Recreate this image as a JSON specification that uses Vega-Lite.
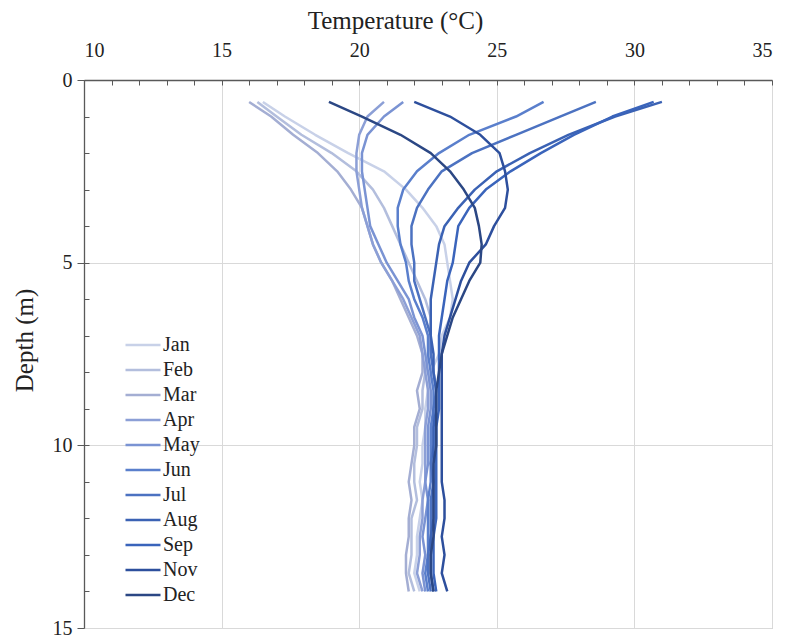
{
  "$schema": "https://vega.github.io/schema/vega-lite/v6.json",
  "width": 688,
  "height": 548,
  "autosize": {"type": "none"},
  "padding": {"left": 84, "top": 80, "right": 15, "bottom": 10},
  "background": "white",
  "config": {
    "font": "Liberation Serif",
    "view": {"stroke": "#bfbfbf", "strokeWidth": 1}
  },
  "datasets": {
    "profiles": [
      {"month":"Jan","depth":0.6,"temp":16.5},{"month":"Jan","depth":1,"temp":17.3},{"month":"Jan","depth":1.5,"temp":18.4},{"month":"Jan","depth":2,"temp":19.6},{"month":"Jan","depth":2.5,"temp":20.9},{"month":"Jan","depth":3,"temp":21.7},{"month":"Jan","depth":3.5,"temp":22.3},{"month":"Jan","depth":4,"temp":22.8},{"month":"Jan","depth":4.5,"temp":23.1},{"month":"Jan","depth":5,"temp":23.2},{"month":"Jan","depth":5.5,"temp":23.3},{"month":"Jan","depth":6,"temp":23.4},{"month":"Jan","depth":6.5,"temp":23.3},{"month":"Jan","depth":7,"temp":23.0},{"month":"Jan","depth":7.5,"temp":22.9},{"month":"Jan","depth":8,"temp":22.6},{"month":"Jan","depth":8.5,"temp":22.5},{"month":"Jan","depth":9,"temp":22.4},{"month":"Jan","depth":9.5,"temp":22.4},{"month":"Jan","depth":10,"temp":22.3},{"month":"Jan","depth":10.5,"temp":22.3},{"month":"Jan","depth":11,"temp":22.2},{"month":"Jan","depth":11.5,"temp":22.3},{"month":"Jan","depth":12,"temp":22.2},{"month":"Jan","depth":12.5,"temp":22.1},{"month":"Jan","depth":13,"temp":22.1},{"month":"Jan","depth":13.5,"temp":22.0},{"month":"Jan","depth":14,"temp":22.2},
      {"month":"Feb","depth":0.6,"temp":16.3},{"month":"Feb","depth":1,"temp":17.0},{"month":"Feb","depth":1.5,"temp":17.9},{"month":"Feb","depth":2,"temp":19.0},{"month":"Feb","depth":2.5,"temp":19.9},{"month":"Feb","depth":3,"temp":20.5},{"month":"Feb","depth":3.5,"temp":20.9},{"month":"Feb","depth":4,"temp":21.2},{"month":"Feb","depth":4.5,"temp":21.5},{"month":"Feb","depth":5,"temp":21.8},{"month":"Feb","depth":5.5,"temp":22.1},{"month":"Feb","depth":6,"temp":22.4},{"month":"Feb","depth":6.5,"temp":22.6},{"month":"Feb","depth":7,"temp":22.6},{"month":"Feb","depth":7.5,"temp":22.5},{"month":"Feb","depth":8,"temp":22.4},{"month":"Feb","depth":8.5,"temp":22.3},{"month":"Feb","depth":9,"temp":22.3},{"month":"Feb","depth":9.5,"temp":22.1},{"month":"Feb","depth":10,"temp":22.1},{"month":"Feb","depth":10.5,"temp":22.0},{"month":"Feb","depth":11,"temp":22.0},{"month":"Feb","depth":11.5,"temp":22.1},{"month":"Feb","depth":12,"temp":21.9},{"month":"Feb","depth":12.5,"temp":21.9},{"month":"Feb","depth":13,"temp":21.9},{"month":"Feb","depth":13.5,"temp":21.8},{"month":"Feb","depth":14,"temp":22.0},
      {"month":"Mar","depth":0.6,"temp":16.0},{"month":"Mar","depth":1,"temp":16.8},{"month":"Mar","depth":1.5,"temp":17.6},{"month":"Mar","depth":2,"temp":18.5},{"month":"Mar","depth":2.5,"temp":19.2},{"month":"Mar","depth":3,"temp":19.7},{"month":"Mar","depth":3.5,"temp":20.1},{"month":"Mar","depth":4,"temp":20.3},{"month":"Mar","depth":4.5,"temp":20.5},{"month":"Mar","depth":5,"temp":20.8},{"month":"Mar","depth":5.5,"temp":21.2},{"month":"Mar","depth":6,"temp":21.5},{"month":"Mar","depth":6.5,"temp":21.8},{"month":"Mar","depth":7,"temp":22.1},{"month":"Mar","depth":7.5,"temp":22.3},{"month":"Mar","depth":8,"temp":22.3},{"month":"Mar","depth":8.5,"temp":22.1},{"month":"Mar","depth":9,"temp":22.2},{"month":"Mar","depth":9.5,"temp":22.0},{"month":"Mar","depth":10,"temp":22.0},{"month":"Mar","depth":10.5,"temp":21.9},{"month":"Mar","depth":11,"temp":21.8},{"month":"Mar","depth":11.5,"temp":21.9},{"month":"Mar","depth":12,"temp":21.8},{"month":"Mar","depth":12.5,"temp":21.8},{"month":"Mar","depth":13,"temp":21.7},{"month":"Mar","depth":13.5,"temp":21.7},{"month":"Mar","depth":14,"temp":21.8},
      {"month":"Apr","depth":0.6,"temp":20.9},{"month":"Apr","depth":1,"temp":20.3},{"month":"Apr","depth":1.5,"temp":20.0},{"month":"Apr","depth":2,"temp":19.9},{"month":"Apr","depth":2.5,"temp":19.9},{"month":"Apr","depth":3,"temp":20.0},{"month":"Apr","depth":3.5,"temp":20.1},{"month":"Apr","depth":4,"temp":20.3},{"month":"Apr","depth":4.5,"temp":20.5},{"month":"Apr","depth":5,"temp":20.8},{"month":"Apr","depth":5.5,"temp":21.2},{"month":"Apr","depth":6,"temp":21.6},{"month":"Apr","depth":6.5,"temp":21.9},{"month":"Apr","depth":7,"temp":22.2},{"month":"Apr","depth":7.5,"temp":22.3},{"month":"Apr","depth":8,"temp":22.4},{"month":"Apr","depth":8.5,"temp":22.5},{"month":"Apr","depth":9,"temp":22.5},{"month":"Apr","depth":9.5,"temp":22.4},{"month":"Apr","depth":10,"temp":22.4},{"month":"Apr","depth":10.5,"temp":22.4},{"month":"Apr","depth":11,"temp":22.4},{"month":"Apr","depth":11.5,"temp":22.3},{"month":"Apr","depth":12,"temp":22.3},{"month":"Apr","depth":12.5,"temp":22.2},{"month":"Apr","depth":13,"temp":22.2},{"month":"Apr","depth":13.5,"temp":22.1},{"month":"Apr","depth":14,"temp":22.3},
      {"month":"May","depth":0.6,"temp":21.6},{"month":"May","depth":1,"temp":20.9},{"month":"May","depth":1.5,"temp":20.3},{"month":"May","depth":2,"temp":20.1},{"month":"May","depth":2.5,"temp":20.1},{"month":"May","depth":3,"temp":20.2},{"month":"May","depth":3.5,"temp":20.3},{"month":"May","depth":4,"temp":20.4},{"month":"May","depth":4.5,"temp":20.7},{"month":"May","depth":5,"temp":21.0},{"month":"May","depth":5.5,"temp":21.4},{"month":"May","depth":6,"temp":21.8},{"month":"May","depth":6.5,"temp":22.0},{"month":"May","depth":7,"temp":22.3},{"month":"May","depth":7.5,"temp":22.4},{"month":"May","depth":8,"temp":22.5},{"month":"May","depth":8.5,"temp":22.6},{"month":"May","depth":9,"temp":22.6},{"month":"May","depth":9.5,"temp":22.5},{"month":"May","depth":10,"temp":22.5},{"month":"May","depth":10.5,"temp":22.5},{"month":"May","depth":11,"temp":22.4},{"month":"May","depth":11.5,"temp":22.5},{"month":"May","depth":12,"temp":22.4},{"month":"May","depth":12.5,"temp":22.3},{"month":"May","depth":13,"temp":22.4},{"month":"May","depth":13.5,"temp":22.3},{"month":"May","depth":14,"temp":22.4},
      {"month":"Jun","depth":0.6,"temp":26.7},{"month":"Jun","depth":1,"temp":25.7},{"month":"Jun","depth":1.5,"temp":24.0},{"month":"Jun","depth":2,"temp":22.9},{"month":"Jun","depth":2.5,"temp":22.1},{"month":"Jun","depth":3,"temp":21.6},{"month":"Jun","depth":3.5,"temp":21.4},{"month":"Jun","depth":4,"temp":21.4},{"month":"Jun","depth":4.5,"temp":21.5},{"month":"Jun","depth":5,"temp":21.7},{"month":"Jun","depth":5.5,"temp":21.8},{"month":"Jun","depth":6,"temp":22.0},{"month":"Jun","depth":6.5,"temp":22.3},{"month":"Jun","depth":7,"temp":22.5},{"month":"Jun","depth":7.5,"temp":22.5},{"month":"Jun","depth":8,"temp":22.6},{"month":"Jun","depth":8.5,"temp":22.7},{"month":"Jun","depth":9,"temp":22.7},{"month":"Jun","depth":9.5,"temp":22.6},{"month":"Jun","depth":10,"temp":22.6},{"month":"Jun","depth":10.5,"temp":22.6},{"month":"Jun","depth":11,"temp":22.6},{"month":"Jun","depth":11.5,"temp":22.5},{"month":"Jun","depth":12,"temp":22.5},{"month":"Jun","depth":12.5,"temp":22.5},{"month":"Jun","depth":13,"temp":22.5},{"month":"Jun","depth":13.5,"temp":22.4},{"month":"Jun","depth":14,"temp":22.5},
      {"month":"Jul","depth":0.6,"temp":28.6},{"month":"Jul","depth":1,"temp":27.3},{"month":"Jul","depth":1.5,"temp":25.7},{"month":"Jul","depth":2,"temp":24.1},{"month":"Jul","depth":2.5,"temp":23.0},{"month":"Jul","depth":3,"temp":22.5},{"month":"Jul","depth":3.5,"temp":22.1},{"month":"Jul","depth":4,"temp":21.9},{"month":"Jul","depth":4.5,"temp":21.9},{"month":"Jul","depth":5,"temp":22.0},{"month":"Jul","depth":5.5,"temp":22.0},{"month":"Jul","depth":6,"temp":22.2},{"month":"Jul","depth":6.5,"temp":22.4},{"month":"Jul","depth":7,"temp":22.6},{"month":"Jul","depth":7.5,"temp":22.6},{"month":"Jul","depth":8,"temp":22.7},{"month":"Jul","depth":8.5,"temp":22.8},{"month":"Jul","depth":9,"temp":22.7},{"month":"Jul","depth":9.5,"temp":22.7},{"month":"Jul","depth":10,"temp":22.7},{"month":"Jul","depth":10.5,"temp":22.6},{"month":"Jul","depth":11,"temp":22.7},{"month":"Jul","depth":11.5,"temp":22.6},{"month":"Jul","depth":12,"temp":22.6},{"month":"Jul","depth":12.5,"temp":22.6},{"month":"Jul","depth":13,"temp":22.5},{"month":"Jul","depth":13.5,"temp":22.5},{"month":"Jul","depth":14,"temp":22.6},
      {"month":"Aug","depth":0.6,"temp":31.0},{"month":"Aug","depth":1,"temp":29.3},{"month":"Aug","depth":1.5,"temp":27.6},{"month":"Aug","depth":2,"temp":26.2},{"month":"Aug","depth":2.5,"temp":25.0},{"month":"Aug","depth":3,"temp":24.2},{"month":"Aug","depth":3.5,"temp":23.6},{"month":"Aug","depth":4,"temp":23.1},{"month":"Aug","depth":4.5,"temp":22.9},{"month":"Aug","depth":5,"temp":22.8},{"month":"Aug","depth":5.5,"temp":22.7},{"month":"Aug","depth":6,"temp":22.6},{"month":"Aug","depth":6.5,"temp":22.6},{"month":"Aug","depth":7,"temp":22.6},{"month":"Aug","depth":7.5,"temp":22.7},{"month":"Aug","depth":8,"temp":22.7},{"month":"Aug","depth":8.5,"temp":22.8},{"month":"Aug","depth":9,"temp":22.8},{"month":"Aug","depth":9.5,"temp":22.7},{"month":"Aug","depth":10,"temp":22.7},{"month":"Aug","depth":10.5,"temp":22.7},{"month":"Aug","depth":11,"temp":22.7},{"month":"Aug","depth":11.5,"temp":22.7},{"month":"Aug","depth":12,"temp":22.7},{"month":"Aug","depth":12.5,"temp":22.6},{"month":"Aug","depth":13,"temp":22.6},{"month":"Aug","depth":13.5,"temp":22.6},{"month":"Aug","depth":14,"temp":22.7},
      {"month":"Sep","depth":0.6,"temp":30.7},{"month":"Sep","depth":1,"temp":29.2},{"month":"Sep","depth":1.5,"temp":27.8},{"month":"Sep","depth":2,"temp":26.6},{"month":"Sep","depth":2.5,"temp":25.5},{"month":"Sep","depth":3,"temp":24.6},{"month":"Sep","depth":3.5,"temp":24.0},{"month":"Sep","depth":4,"temp":23.6},{"month":"Sep","depth":4.5,"temp":23.5},{"month":"Sep","depth":5,"temp":23.4},{"month":"Sep","depth":5.5,"temp":23.2},{"month":"Sep","depth":6,"temp":23.1},{"month":"Sep","depth":6.5,"temp":23.0},{"month":"Sep","depth":7,"temp":22.9},{"month":"Sep","depth":7.5,"temp":22.9},{"month":"Sep","depth":8,"temp":22.9},{"month":"Sep","depth":8.5,"temp":22.9},{"month":"Sep","depth":9,"temp":22.9},{"month":"Sep","depth":9.5,"temp":22.8},{"month":"Sep","depth":10,"temp":22.8},{"month":"Sep","depth":10.5,"temp":22.8},{"month":"Sep","depth":11,"temp":22.8},{"month":"Sep","depth":11.5,"temp":22.8},{"month":"Sep","depth":12,"temp":22.8},{"month":"Sep","depth":12.5,"temp":22.7},{"month":"Sep","depth":13,"temp":22.7},{"month":"Sep","depth":13.5,"temp":22.7},{"month":"Sep","depth":14,"temp":22.8},
      {"month":"Nov","depth":0.6,"temp":22.0},{"month":"Nov","depth":1,"temp":23.3},{"month":"Nov","depth":1.5,"temp":24.4},{"month":"Nov","depth":2,"temp":25.1},{"month":"Nov","depth":2.5,"temp":25.3},{"month":"Nov","depth":3,"temp":25.4},{"month":"Nov","depth":3.5,"temp":25.3},{"month":"Nov","depth":4,"temp":24.9},{"month":"Nov","depth":4.5,"temp":24.6},{"month":"Nov","depth":5,"temp":24.0},{"month":"Nov","depth":5.5,"temp":23.7},{"month":"Nov","depth":6,"temp":23.5},{"month":"Nov","depth":6.5,"temp":23.3},{"month":"Nov","depth":7,"temp":23.1},{"month":"Nov","depth":7.5,"temp":23.0},{"month":"Nov","depth":8,"temp":23.0},{"month":"Nov","depth":8.5,"temp":23.0},{"month":"Nov","depth":9,"temp":23.0},{"month":"Nov","depth":9.5,"temp":23.0},{"month":"Nov","depth":10,"temp":23.0},{"month":"Nov","depth":10.5,"temp":23.0},{"month":"Nov","depth":11,"temp":23.0},{"month":"Nov","depth":11.5,"temp":23.1},{"month":"Nov","depth":12,"temp":23.1},{"month":"Nov","depth":12.5,"temp":23.0},{"month":"Nov","depth":13,"temp":23.1},{"month":"Nov","depth":13.5,"temp":23.0},{"month":"Nov","depth":14,"temp":23.2},
      {"month":"Dec","depth":0.6,"temp":18.9},{"month":"Dec","depth":1,"temp":20.1},{"month":"Dec","depth":1.5,"temp":21.5},{"month":"Dec","depth":2,"temp":22.6},{"month":"Dec","depth":2.5,"temp":23.3},{"month":"Dec","depth":3,"temp":23.8},{"month":"Dec","depth":3.5,"temp":24.2},{"month":"Dec","depth":4,"temp":24.35},{"month":"Dec","depth":4.5,"temp":24.45},{"month":"Dec","depth":5,"temp":24.4},{"month":"Dec","depth":5.5,"temp":24.0},{"month":"Dec","depth":6,"temp":23.7},{"month":"Dec","depth":6.5,"temp":23.4},{"month":"Dec","depth":7,"temp":23.2},{"month":"Dec","depth":7.5,"temp":23.0},{"month":"Dec","depth":8,"temp":22.9},{"month":"Dec","depth":8.5,"temp":22.8},{"month":"Dec","depth":9,"temp":22.8},{"month":"Dec","depth":9.5,"temp":22.8},{"month":"Dec","depth":10,"temp":22.8},{"month":"Dec","depth":10.5,"temp":22.7},{"month":"Dec","depth":11,"temp":22.7},{"month":"Dec","depth":11.5,"temp":22.7},{"month":"Dec","depth":12,"temp":22.7},{"month":"Dec","depth":12.5,"temp":22.7},{"month":"Dec","depth":13,"temp":22.6},{"month":"Dec","depth":13.5,"temp":22.6},{"month":"Dec","depth":14,"temp":22.7}
    ]
  },
  "data": {"name": "profiles"},
  "layer": [
    {
      "mark": {"type": "line", "strokeWidth": 2.5, "strokeJoin": "round"},
      "encoding": {
        "x": {
          "field": "temp", "type": "quantitative",
          "scale": {"domain": [10, 35], "nice": false, "zero": false},
          "axis": {
            "orient": "top", "title": "Temperature (°C)", "values": [10, 15, 20, 25, 30, 35],
            "grid": true, "gridColor": "#d9d9d9", "gridWidth": 1,
            "domainColor": "#595959", "domainWidth": 1.3, "tickColor": "#595959", "tickSize": -5,
            "labelFont": "Liberation Serif", "labelFontSize": 20, "labelColor": "#222222", "labelPadding": 25,
            "titleFont": "Liberation Serif", "titleFontSize": 25, "titleFontWeight": "normal", "titleColor": "#222222", "titlePadding": 7,
            "titleX": 311
          }
        },
        "y": {
          "field": "depth", "type": "quantitative",
          "scale": {"domain": [0, 15], "reverse": true, "nice": false, "zero": false},
          "axis": {
            "orient": "left", "title": "Depth (m)", "values": [0, 5, 10, 15],
            "grid": true, "gridColor": "#d9d9d9", "gridWidth": 1,
            "domainColor": "#595959", "domainWidth": 1.3, "tickColor": "#595959", "tickSize": 7,
            "labelFont": "Liberation Serif", "labelFontSize": 20, "labelColor": "#222222", "labelPadding": 5,
            "titleFont": "Liberation Serif", "titleFontSize": 25, "titleFontWeight": "normal", "titleColor": "#222222", "titlePadding": 15,
            "titleY": 260
          }
        },
        "color": {
          "field": "month", "type": "nominal",
          "scale": {
            "domain": ["Jan","Feb","Mar","Apr","May","Jun","Jul","Aug","Sep","Nov","Dec"],
            "range": ["#c8d1e8","#b3bedd","#a4aed3","#8c9fd6","#7a93d3","#5a7fcc","#4c72c1","#3b62b4","#3a64bb","#2d4f9d","#2b4784"]
          },
          "legend": {
            "title": null, "orient": "none", "legendX": 49, "legendY": 255,
            "symbolType": "M-2.5,0H2.5", "symbolSize": 196, "symbolStrokeWidth": 2.5,
            "labelFont": "Liberation Serif", "labelFontSize": 20, "labelColor": "#222222",
            "labelOffset": 10, "rowPadding": 5, "padding": 0
          }
        },
        "order": {"field": "depth", "type": "quantitative"}
      }
    },
    {
      "mark": {"type": "line", "strokeOpacity": 0},
      "encoding": {
        "x": {
          "field": "temp", "type": "quantitative",
          "axis": {
            "orient": "top", "values": [11,12,13,14,16,17,18,19,21,22,23,24,26,27,28,29,31,32,33,34],
            "labels": false, "grid": false, "domain": false, "title": null,
            "tickColor": "#595959", "tickSize": -5
          }
        },
        "y": {
          "field": "depth", "type": "quantitative",
          "axis": {
            "orient": "left", "values": [1,2,3,4,5,6,7,8,9,10,11,12,13,14],
            "labels": false, "grid": false, "domain": false, "title": null,
            "tickColor": "#595959", "tickSize": -5
          }
        },
        "detail": {"field": "month"}
      }
    }
  ],
  "resolve": {"axis": {"x": "independent", "y": "independent"}}
}
